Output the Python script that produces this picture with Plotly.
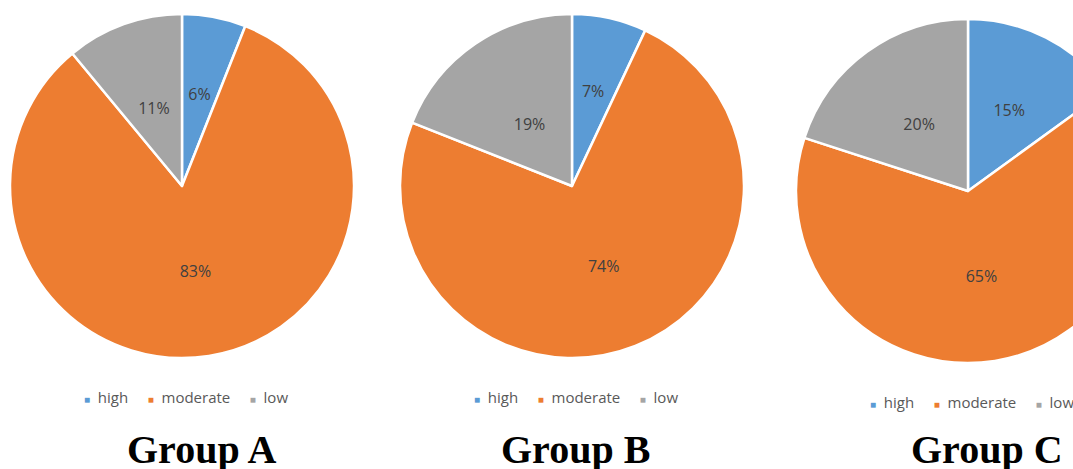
import plotly.graph_objects as go

# Risk level shares (%) for each group, clockwise from 12 o'clock
categories = ["high", "moderate", "low"]
groups = ["Group A", "Group B", "Group C"]
group_a = [6, 83, 11]
group_b = [7, 74, 19]
group_c = [15, 65, 20]
colors = ["#5B9BD5", "#ED7D31", "#A5A5A5"]

W, H = 1150, 469
R = 172
# pie centres in pixels, radius of the ring carrying the small-slice labels, title centre x
layout_spec = [
    dict(cx=182, cy=186, lab_r=111, title_x=201),
    dict(cx=572, cy=186, lab_r=118, title_x=575),
    dict(cx=968, cy=191, lab_r=132, title_x=987),
]

label_font = dict(family="Open Sans", size=16, color="#404040")


def domain(cx, cy, r):
    return dict(x=[(cx - r) / W, (cx + r) / W],
                y=[1 - (cy + r) / H, 1 - (cy - r) / H])


fig = go.Figure()
annotations = []
for name, vals, spec in zip(groups, [group_a, group_b, group_c], layout_spec):
    pct = [f"{v}%" for v in vals]
    big = [p if v > 50 else "" for p, v in zip(pct, vals)]
    small = [p if v <= 50 else "" for p, v in zip(pct, vals)]

    # coloured slices, with the label of the dominant slice
    fig.add_trace(go.Pie(
        labels=categories, values=vals, sort=False, direction="clockwise",
        rotation=0, domain=domain(spec["cx"], spec["cy"], R),
        marker=dict(colors=colors, line=dict(color="white", width=2.5)),
        text=big, textinfo="text", textposition="inside",
        insidetextorientation="horizontal", textfont=label_font,
        hoverinfo="label+value", showlegend=False,
    ))
    # labels of the narrow slices on an inner transparent ring
    fig.add_trace(go.Pie(
        labels=categories, values=vals, sort=False, direction="clockwise",
        rotation=0, domain=domain(spec["cx"], spec["cy"], spec["lab_r"]),
        marker=dict(colors=["rgba(0,0,0,0)"] * 3, line=dict(width=0)),
        text=small, textinfo="text", textposition="inside",
        insidetextorientation="horizontal", textfont=label_font,
        hoverinfo="skip", showlegend=False,
    ))
    # legend row under each pie
    parts = [
        f'<span style="color:{c};font-size:10px">■</span>\u00a0\u00a0{cat}'
        for cat, c in zip(categories, colors)
    ]
    annotations.append(dict(
        text=("\u00a0" * 5).join(parts), xref="paper", yref="paper",
        x=(spec["cx"] + 4) / W, y=1 - (spec["cy"] + 211) / H,
        xanchor="center", yanchor="middle", showarrow=False,
        font=dict(family="Open Sans", size=15, color="#595959"),
    ))
    annotations.append(dict(
        text=f"<b>{name}</b>", xref="paper", yref="paper",
        x=spec["title_x"] / W, y=1 - 449 / H,
        xanchor="center", yanchor="middle", showarrow=False,
        font=dict(family="Liberation Serif", size=40, color="#000000"),
    ))

fig.update_layout(
    width=W, height=H, margin=dict(l=0, r=0, t=0, b=0),
    paper_bgcolor="white", plot_bgcolor="white",
    annotations=annotations, showlegend=False,
)

fig.write_html(
    "out.html",
    post_script="document.documentElement.style.overflow='hidden';"
                "document.body.style.overflow='hidden';",
)
